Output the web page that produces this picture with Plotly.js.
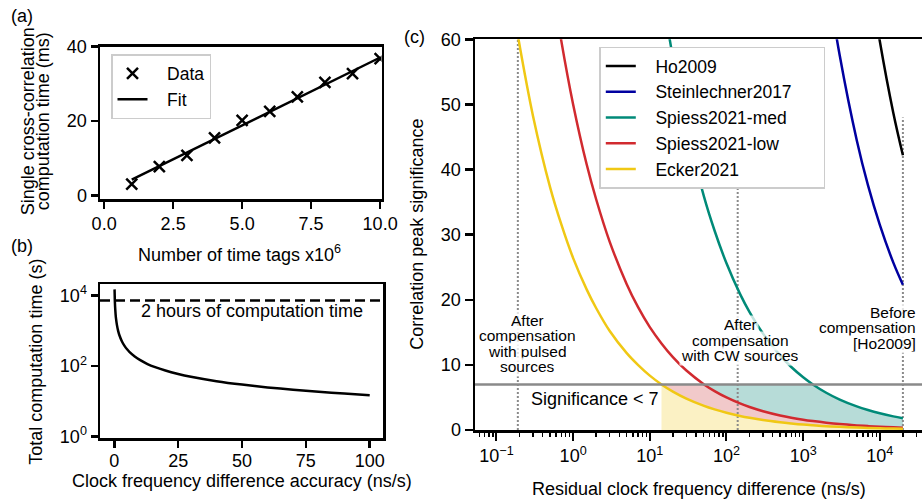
<!DOCTYPE html>
<html><head><meta charset="utf-8">
<script src="https://cdn.plot.ly/plotly-3.0.1.min.js"></script>
<style>html,body{margin:0;padding:0;background:#fff}#chart{width:922px;height:502px}</style>
</head><body><div id="chart"></div>
<script>
// ---------- Panel (a) ----------
const tagsMillions = [1, 2, 3, 4, 5, 6, 7, 8, 9, 10];
const corrTimeMs   = [3.1, 7.8, 10.8, 15.5, 20.2, 22.6, 26.5, 30.4, 32.8, 36.8];
const fitTags      = [1, 10];
const fitTimeMs    = [4.3, 37.1];

// ---------- Panel (b) ----------
const accuracyNs = [0.1, 0.2, 0.3, 0.5, 0.7, 1, 1.5, 2, 3, 4, 5, 6, 8, 10, 13, 16, 20, 25, 30, 40, 50, 60, 70, 80, 90, 100];
const totalTimeS = [15000, 7500, 5000, 3000, 2140, 1500, 1000, 750, 500, 375, 300, 250, 188, 150, 115, 94, 75, 60, 50, 37.5, 30, 25, 21.4, 18.8, 16.7, 15];
const twoHoursS = 7200;

// ---------- Panel (c) ----------
const residual = [0.19, 0.3, 0.5, 0.7, 1, 1.5, 2, 3, 5, 7, 10, 14.2, 20, 30, 51, 70, 100, 150, 200, 300, 500, 700, 1000, 1340, 2000, 3000, 5000, 7000, 10000, 15000, 20000];
const ho2009 = [null, null, null, null, null, null, null, null, null, null, null, null, null, null, null, null, null, null, null, null, null, null, null, null, null, 109.0, 84.4, 71.4, 59.7, 48.7, 42.2];
const steinlechner2017 = [null, null, null, null, null, null, null, null, null, null, null, null, null, null, null, null, null, null, null, null, null, null, 99.6, 86.1, 70.4, 57.5, 44.5, 37.6, 31.5, 25.7, 22.3];
const spiessMed = [null, null, null, null, null, null, null, null, null, 96.8, 80.95, 67.9, 57.2, 46.7, 35.8, 30.6, 25.6, 20.9, 18.1, 14.8, 11.45, 9.68, 8.10, 7.0, 5.72, 4.67, 3.62, 3.06, 2.56, 2.09, 1.81];
const spiessLow = [114.7, 91.3, 70.7, 59.8, 50.0, 40.8, 35.4, 28.9, 22.4, 18.9, 15.8, 13.3, 11.2, 9.13, 7.0, 5.98, 5.0, 4.08, 3.54, 2.89, 2.24, 1.89, 1.58, 1.37, 1.12, 0.91, 0.71, 0.60, 0.50, 0.41, 0.35];
const ecker2021 = [60.6, 48.2, 37.3, 31.6, 26.4, 21.6, 18.7, 15.2, 11.8, 10.0, 8.35, 7.0, 5.90, 4.82, 3.70, 3.16, 2.64, 2.16, 1.87, 1.52, 1.18, 1.00, 0.83, 0.72, 0.59, 0.48, 0.37, 0.32, 0.26, 0.22, 0.19];
const seriesNames = ['Ho2009', 'Steinlechner2017', 'Spiess2021-med', 'Spiess2021-low', 'Ecker2021'];
const threshold = 7;
const markerLinesX = [0.19, 140, 20000];
const markerLinesTop = [60, 40, 48];
const xTickVals = [0.1, 1, 10, 100, 1000, 10000];
const xTickText = ['10<sup>−1</sup>', '10<sup>0</sup>', '10<sup>1</sup>', '10<sup>2</sup>', '10<sup>3</sup>', '10<sup>4</sup>'];
const bTickVals = [1, 100, 10000];
const bTickText = ['10<sup>0</sup>', '10<sup>2</sup>', '10<sup>4</sup>'];

// ---------- styling ----------
const W = 922, H = 502;
const px = x => x / W, py = y => 1 - y / H;
const FAM = 'Liberation Sans, Arial, Helvetica, sans-serif';
const FONT = {family: FAM, size: 18, color: '#000'};
const LFONT = {family: FAM, size: 17.5, color: '#000'};
const COLORS = ['#000000', '#0000a0', '#008a78', '#d12a2f', '#f0c814'];
const FILLS = {yellow: '#fbf1c4', red: '#f1c9ca', teal: '#b7dcd8'};
const GRAY = '#8a8a8a';
const PADL = '\u2002\u2004';   // gap between legend symbol and label

const traces = [];
// (a)
traces.push({x: tagsMillions, y: corrTimeMs, type: 'scatter', mode: 'markers', name: PADL + 'Data',
  marker: {symbol: 'x-thin', size: 11, color: '#000', line: {width: 2.5, color: '#000'}},
  xaxis: 'x', yaxis: 'y', legend: 'legend'});
traces.push({x: fitTags, y: fitTimeMs, type: 'scatter', mode: 'lines', name: PADL + 'Fit',
  line: {color: '#000', width: 2.5}, xaxis: 'x', yaxis: 'y', legend: 'legend'});
// (b)
traces.push({x: accuracyNs, y: totalTimeS, type: 'scatter', mode: 'lines', showlegend: false,
  line: {color: '#000', width: 2.5, shape: 'spline', smoothing: 0.6}, xaxis: 'x2', yaxis: 'y2'});
const bRange = [-5.6, 105.2];
traces.push({x: bRange, y: [twoHoursS, twoHoursS], type: 'scatter', mode: 'lines', showlegend: false,
  line: {color: '#000', width: 2.5, dash: '10px,5px'}, xaxis: 'x2', yaxis: 'y2'});

// (c) fills below the significance threshold
const i0 = ecker2021.findIndex(v => v !== null && v <= threshold);
const xs = residual.slice(i0);
const capped = arr => arr.slice(i0).map(v => Math.min(v, threshold));
const yel = capped(ecker2021), red = capped(spiessLow), teal = capped(spiessMed);
const rev = a => a.slice().reverse();
traces.push({x: xs, y: yel, type: 'scatter', mode: 'lines', fill: 'tozeroy', fillcolor: FILLS.yellow,
  line: {width: 0}, showlegend: false, hoverinfo: 'skip', xaxis: 'x3', yaxis: 'y3'});
traces.push({x: xs.concat(rev(xs)), y: red.concat(rev(yel)),
  type: 'scatter', mode: 'lines', fill: 'toself', fillcolor: FILLS.red, line: {width: 0},
  showlegend: false, hoverinfo: 'skip', xaxis: 'x3', yaxis: 'y3'});
traces.push({x: xs.concat(rev(xs)), y: teal.concat(rev(red)),
  type: 'scatter', mode: 'lines', fill: 'toself', fillcolor: FILLS.teal, line: {width: 0},
  showlegend: false, hoverinfo: 'skip', xaxis: 'x3', yaxis: 'y3'});
// vertical dotted markers
markerLinesX.forEach((v, k) => {
  traces.push({x: [v, v], y: [0, markerLinesTop[k]], type: 'scatter', mode: 'lines', showlegend: false,
    line: {color: GRAY, width: 2, dash: '2px,2px'}, xaxis: 'x3', yaxis: 'y3'});
});
// curves
[ho2009, steinlechner2017, spiessMed, spiessLow, ecker2021].forEach((ys, k) => {
  traces.push({x: residual, y: ys, type: 'scatter', mode: 'lines',
    name: PADL + seriesNames[k] + (k === 1 ? '\u2003\u2002' : ''),
    line: {color: COLORS[k], width: 2.5, shape: 'spline', smoothing: 1}, connectgaps: false,
    xaxis: 'x3', yaxis: 'y3', legend: 'legend2'});
});

const axisCommon = {showline: true, linecolor: '#000', linewidth: 2.5, mirror: true, ticks: 'outside',
  ticklen: 7, tickwidth: 2.5, tickcolor: '#000', showgrid: false, zeroline: false, tickfont: FONT, fixedrange: true};

// annotations helper (pixel positions)
const ann = (text, x, y, opts = {}) => Object.assign({text, x: px(x), y: py(y), xref: 'paper', yref: 'paper',
  showarrow: false, font: FONT, xanchor: 'center', yanchor: 'middle'}, opts);
const annotations = [
  ann('(a)', 22, 16), ann('(b)', 22, 246), ann('(c)', 414, 37),
  ann('Single cross-correlation', 28.3, 121, {textangle: -90}),
  ann('computation time (ms)', 43.3, 121, {textangle: -90}),
  ann('Number of time tags x10<sup>6</sup>', 240, 253),
  ann('Total computation time (s)', 35.7, 362, {textangle: -90}),
  ann('Clock frequency difference accuracy (ns/s)', 241.5, 481),
  ann('2 hours of computation time', 252, 311),
  ann('Correlation peak significance', 417, 234.7, {textangle: -90}),
  ann('Residual clock frequency difference (ns/s)', 698.5, 488.5),
  ann('Significance < 7', 595, 399),
];
const small = {family: FAM, size: 15.5, color: '#000'};
const boxed = {font: small, bgcolor: 'rgba(255,255,255,0.75)', height: 15.5, borderpad: 1};
[['After', 321], ['compensation', 336.3], ['with pulsed', 351.5], ['sources', 366.8]].forEach(([t, y]) =>
  annotations.push(ann(t, 527.5, y, boxed)));
[['After', 325], ['compensation', 340.5], ['with CW sources', 356]].forEach(([t, y]) =>
  annotations.push(ann(t, 740, y, boxed)));
[['Before', 312.7], ['compensation', 328.3], ['[Ho2009]', 344]].forEach(([t, y]) =>
  annotations.push(ann(t, 918, y, Object.assign({xanchor: 'right'}, boxed))));

const minorVals = [];
for (let k = -2; k <= 4; k++) for (let m = 2; m <= 9; m++) minorVals.push(m * Math.pow(10, k));

const layout = {
  width: W, height: H, margin: {l: 0, r: 0, t: 0, b: 0, pad: 0},
  paper_bgcolor: '#fff', plot_bgcolor: 'rgba(0,0,0,0)', font: FONT, showlegend: true,
  xaxis: Object.assign({}, axisCommon, {domain: [px(100), px(381.5)], anchor: 'y', range: [-0.15, 10.05],
    tickvals: [0, 2.5, 5, 7.5, 10], tickformat: '.1f'}),
  yaxis: Object.assign({}, axisCommon, {domain: [py(199), py(46.7)], anchor: 'x', range: [-0.9, 40],
    tickvals: [0, 20, 40]}),
  xaxis2: Object.assign({}, axisCommon, {domain: [px(100), px(383)], anchor: 'y2', range: bRange,
    tickvals: [0, 25, 50, 75, 100], ticklabelstandoff: -2}),
  yaxis2: Object.assign({}, axisCommon, {type: 'log', domain: [py(438.3), py(284.3)], anchor: 'x2',
    range: [-0.045, 4.32], tickmode: 'array', tickvals: bTickVals, ticktext: bTickText}),
  xaxis3: Object.assign({}, axisCommon, {type: 'log', domain: [px(475), 1], anchor: 'y3', range: [-1.28, 4.55],
    tickmode: 'array', tickvals: xTickVals, ticktext: xTickText, ticklen: 8, tickwidth: 2,
    minor: {ticks: 'outside', ticklen: 4.5, tickwidth: 1.5, tickcolor: '#000', tickmode: 'array', tickvals: minorVals, showgrid: false}}),
  yaxis3: Object.assign({}, axisCommon, {domain: [py(430), py(39.3)], anchor: 'x3', range: [0, 60],
    tickvals: [0, 10, 20, 30, 40, 50, 60], ticklen: 8}),
  legend: {x: px(111), y: py(54), xanchor: 'left', yanchor: 'top', bgcolor: 'rgba(255,255,255,0.85)',
    bordercolor: '#cccccc', borderwidth: 1.5, font: LFONT},
  legend2: {x: px(599.3), y: py(46.5), xanchor: 'left', yanchor: 'top', bgcolor: '#ffffff',
    bordercolor: '#cccccc', borderwidth: 1.5, font: LFONT},
  shapes: [{type: 'line', xref: 'x3 domain', x0: 0, x1: 1, yref: 'y3', y0: threshold, y1: threshold,
    line: {color: GRAY, width: 2.5}, layer: 'above'}],
  annotations
};
Plotly.newPlot('chart', traces, layout, {displayModeBar: false, staticPlot: true});
</script></body></html>
